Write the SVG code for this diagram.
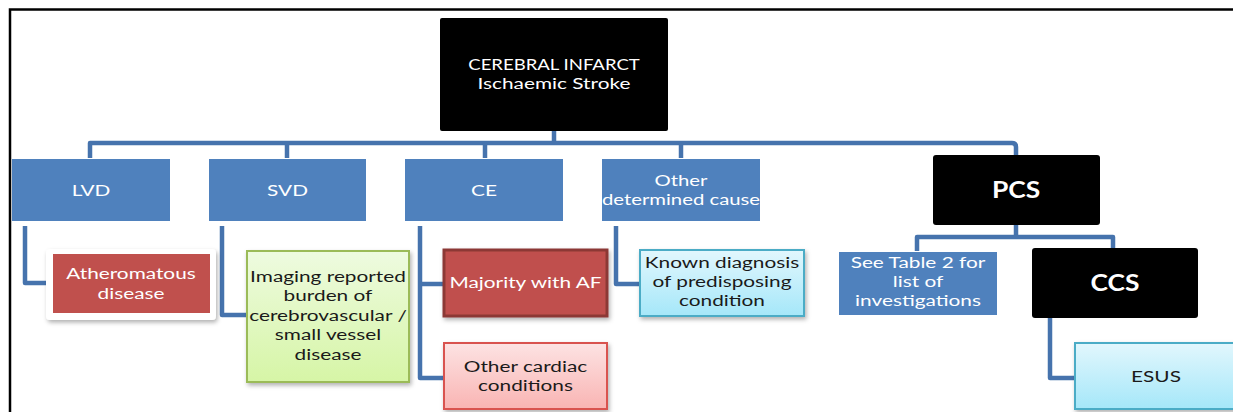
<svg xmlns="http://www.w3.org/2000/svg" width="1233" height="412" viewBox="0 0 1233 412">
<style>
text{font-family:Lato,"Open Sans","Liberation Sans",sans-serif;font-size:16px;text-anchor:middle}
.w{fill:#ffffff}
.d{fill:#1a1a1a}
.b{font-weight:bold;font-size:22px}
.blue{fill:#4f81bd}
.blk{fill:#000000}
.conn path{fill:none;stroke:#4673ad;stroke-width:4.5;stroke-linejoin:round}
</style>
<defs>
<linearGradient id="gCyan" x1="0" y1="0" x2="0" y2="1"><stop offset="0" stop-color="#e2f7fd"/><stop offset="1" stop-color="#a5e7f9"/></linearGradient>
<linearGradient id="gGreen" x1="0" y1="0" x2="0" y2="1"><stop offset="0" stop-color="#eefbe0"/><stop offset="1" stop-color="#d6f5a6"/></linearGradient>
<linearGradient id="gPink" x1="0" y1="0" x2="0" y2="1"><stop offset="0" stop-color="#fde3e3"/><stop offset="1" stop-color="#f9b4b3"/></linearGradient>
<filter id="sh" x="-10%" y="-10%" width="125%" height="130%"><feDropShadow dx="1.5" dy="2.5" stdDeviation="2" flood-color="#000" flood-opacity="0.3"/></filter>
</defs>
<rect width="1233" height="412" fill="#ffffff"/>
<path d="M10,412 V9.5 H1233" fill="none" stroke="#000" stroke-width="2.5"/>
<g class="conn">
<path d="M554,131 V143"/>
<path d="M90,158 V143 H1012 Q1016,143 1016,147 V156"/>
<path d="M287,158 V143"/>
<path d="M485,158 V143"/>
<path d="M681,158 V143"/>
<path d="M25,226 V283 H48"/>
<path d="M222,226 V315 H248"/>
<path d="M420,226 V378 H444"/>
<path d="M420,284 H444"/>
<path d="M616,226 V284 H640"/>
<path d="M1016,225 V237"/>
<path d="M917,251 V237 H1113 V249"/>
<path d="M1050,318 V378 H1075"/>
</g>
<g id="root"><rect x="440" y="18" width="228" height="113" rx="2" class="blk"/><g transform="translate(554 0) scale(1.16 1)"><text x="0" y="70" class="w">CEREBRAL INFARCT</text></g><g transform="translate(554 0) scale(1.3 1)"><text x="0" y="89" class="w">Ischaemic Stroke</text></g></g>
<g id="lvd"><rect x="12" y="159" width="158" height="62" class="blue"/><g transform="translate(91 0) scale(1.3 1)"><text x="0" y="196" class="w">LVD</text></g></g>
<g id="svd"><rect x="209" y="159" width="157" height="62" class="blue"/><g transform="translate(287.5 0) scale(1.3 1)"><text x="0" y="196" class="w">SVD</text></g></g>
<g id="ce"><rect x="405" y="159" width="158" height="62" class="blue"/><g transform="translate(484 0) scale(1.3 1)"><text x="0" y="196" class="w">CE</text></g></g>
<g id="other"><rect x="602" y="159" width="158" height="62" class="blue"/><g transform="translate(681 0) scale(1.27 1)"><text x="0" y="186" class="w">Other</text><text x="0" y="205" class="w">determined cause</text></g></g>
<g id="pcs"><rect x="933" y="155" width="167" height="70" rx="3" class="blk"/><g transform="translate(1016 0) scale(1.2 1)"><text x="0" y="198" class="w b">PCS</text></g></g>
<g id="athero"><rect x="46" y="249" width="170" height="71" rx="4" fill="#ffffff" filter="url(#sh)"/><rect x="53" y="254" width="157" height="59" fill="#c0504d"/><g transform="translate(131 0) scale(1.3 1)"><text x="0" y="279" class="w">Atheromatous</text><text x="0" y="299" class="w">disease</text></g></g>
<g id="imaging"><rect x="247" y="251" width="162" height="131" fill="url(#gGreen)" stroke="#9bbb59" stroke-width="2" filter="url(#sh)"/><g transform="translate(328 0) scale(1.3 1)"><text x="0" y="282" class="d">Imaging reported</text><text x="0" y="301" class="d">burden of</text><text x="0" y="321" class="d">cerebrovascular /</text><text x="0" y="340" class="d">small vessel</text><text x="0" y="360" class="d">disease</text></g></g>
<g id="majority"><rect x="444" y="250" width="163" height="66" fill="#c0504d" stroke="#8c3836" stroke-width="3" filter="url(#sh)"/><g transform="translate(525.5 0) scale(1.3 1)"><text x="0" y="288" class="w">Majority with AF</text></g></g>
<g id="othercardiac"><rect x="444" y="343" width="163" height="66" fill="url(#gPink)" stroke="#d9534f" stroke-width="2" filter="url(#sh)"/><g transform="translate(525.5 0) scale(1.3 1)"><text x="0" y="372" class="d">Other cardiac</text><text x="0" y="391" class="d">conditions</text></g></g>
<g id="known"><rect x="640" y="250" width="164" height="66" fill="url(#gCyan)" stroke="#4bacc6" stroke-width="2" filter="url(#sh)"/><g transform="translate(722 0) scale(1.3 1)"><text x="0" y="268" class="d">Known diagnosis</text><text x="0" y="287" class="d">of predisposing</text><text x="0" y="306" class="d">condition</text></g></g>
<g id="seetable"><rect x="839" y="252" width="158" height="63" class="blue"/><g transform="translate(918 0) scale(1.3 1)"><text x="0" y="268" class="w">See Table 2 for</text><text x="0" y="287" class="w">list of</text><text x="0" y="306" class="w">investigations</text></g></g>
<g id="ccs"><rect x="1032" y="248" width="166" height="70" rx="3" class="blk"/><g transform="translate(1115 0) scale(1.2 1)"><text x="0" y="291" class="w b">CCS</text></g></g>
<g id="esus"><rect x="1075" y="343" width="165" height="66" fill="url(#gCyan)" stroke="#4bacc6" stroke-width="2" filter="url(#sh)"/><g transform="translate(1156 0) scale(1.3 1)"><text x="0" y="382" class="d">ESUS</text></g></g>
</svg>
